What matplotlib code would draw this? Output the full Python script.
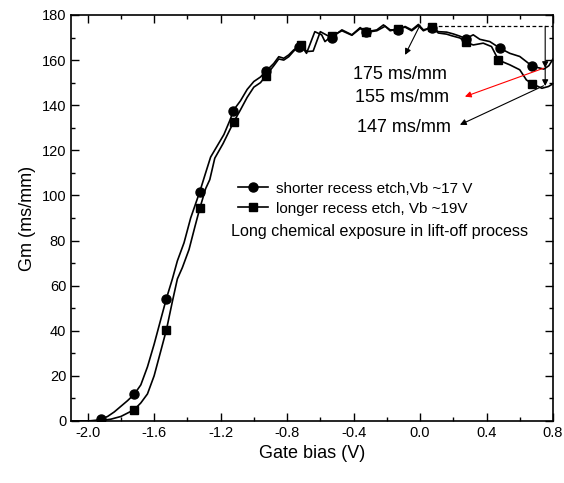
import numpy as np
import matplotlib
matplotlib.use('Agg')
import matplotlib.pyplot as plt
from matplotlib.lines import Line2D

plt.rcParams['font.family'] = ['Liberation Sans', 'DejaVu Sans']

# shorter recess etch, Vb ~17 V  (circles)
v_short = [-2.1, -2.0, -1.95, -1.92, -1.88, -1.84, -1.80, -1.76, -1.72, -1.68, -1.64,
           -1.60, -1.56, -1.526, -1.49, -1.46, -1.42, -1.38, -1.325, -1.29, -1.26,
           -1.22, -1.18, -1.14, -1.124, -1.08, -1.04, -1.00, -0.96, -0.928, -0.88,
           -0.85, -0.82, -0.79, -0.76, -0.72, -0.68, -0.643, -0.60, -0.56, -0.532,
           -0.47, -0.41, -0.36, -0.325, -0.26, -0.22, -0.18, -0.131, -0.09, -0.05,
           -0.01, 0.02, 0.07, 0.11, 0.16, 0.20, 0.24, 0.275, 0.32, 0.36, 0.42,
           0.48, 0.54, 0.60, 0.675, 0.745, 0.775, 0.80]
gm_short = [0, 0, 0.3, 0.8, 2, 4, 6.5, 9, 11.8, 16, 24,
            34, 45, 54.3, 63, 71, 79, 90, 101.7, 110, 117,
            122, 127, 134, 137.6, 142, 147, 150.5, 152.5, 155, 158.5,
            161.5, 160.8, 162.3, 164.5, 166.5, 163.8, 164, 172.6, 171, 170,
            173.4, 171.2, 174.4, 172.5, 173.4, 175.6, 173.4, 173.4, 174.9, 173.4,
            175.8, 173.4, 174.4, 172.6, 172.4, 171.6, 170.6, 169.5, 171.2, 169.2, 168.2,
            165.3, 163, 161.6, 157.3, 156, 157.5, 160.5]
mk_short = [-1.92, -1.72, -1.526, -1.325, -1.124, -0.928, -0.73, -0.532, -0.325,
            -0.131, 0.07, 0.275, 0.48, 0.675]

# longer recess etch, Vb ~19 V  (squares)
v_long = [-2.1, -2.0, -1.92, -1.86, -1.80, -1.76, -1.72, -1.68, -1.64, -1.60,
          -1.56, -1.526, -1.49, -1.46, -1.43, -1.39, -1.355, -1.325, -1.29, -1.265,
          -1.235, -1.185, -1.145, -1.12, -1.08, -1.04, -1.00, -0.96, -0.928, -0.88,
          -0.85, -0.82, -0.79, -0.76, -0.719, -0.683, -0.633, -0.592, -0.572,
          -0.532, -0.47, -0.41, -0.36, -0.325, -0.26, -0.21, -0.18, -0.131, -0.09,
          -0.05, -0.01, 0.02, 0.07, 0.11, 0.16, 0.19, 0.24, 0.275, 0.32, 0.38,
          0.43, 0.472, 0.54, 0.60, 0.64, 0.675, 0.733, 0.773, 0.80]
gm_long = [0, 0, 0.2, 0.8, 2, 3.5, 5, 8, 12, 20,
           31, 40.4, 53, 63, 68, 76, 86, 94.3, 103, 107,
           116.5, 123, 129, 132.7, 138, 143.5, 148, 150, 153, 157.5,
           160.5, 160, 161.5, 164, 166.7, 163, 172.6, 171.2, 168.2,
           170.6, 173, 171, 174, 172.3, 173, 175, 173, 173.8, 174.6,
           173, 175.3, 173, 174.6, 172, 171.5, 170.8, 169.8, 168, 166.7, 167.5,
           166, 160, 157.9, 155.7, 151.2, 149.5, 147.5, 148.3, 149.5]
mk_long = [-1.72, -1.526, -1.325, -1.12, -0.928, -0.719, -0.532, -0.325,
           -0.131, 0.07, 0.275, 0.472, 0.675]

fig = plt.figure(figsize=(5.64, 4.83), dpi=100)
ax = fig.add_axes([0.1259, 0.1284, 0.8546, 0.8406])

ax.plot(v_short, gm_short, color='black', lw=1.2)
ax.plot(mk_short, np.interp(mk_short, v_short, gm_short), 'o', color='black', ms=6.5, ls='none')
ax.plot(v_long, gm_long, color='black', lw=1.2)
ax.plot(mk_long, np.interp(mk_long, v_long, gm_long), 's', color='black', ms=5.5, ls='none')

# dashed reference and arrows
ax.plot([0.07, 0.8], [175, 175], color='black', lw=0.9, ls=(0, (3, 2)))
arw = dict(arrowstyle='-|>', color='black', lw=0.8, mutation_scale=9, shrinkA=0, shrinkB=0)
ax.annotate('', xy=(0.753, 156.5), xytext=(0.753, 175), arrowprops=arw)
ax.annotate('', xy=(0.753, 148.5), xytext=(0.753, 156.5), arrowprops=arw)
ax.annotate('', xy=(-0.09, 162.3), xytext=(0.0, 175.5), arrowprops=arw)
ax.annotate('', xy=(0.27, 143.8), xytext=(0.743, 156.4),
            arrowprops=dict(arw, color='red'))
ax.annotate('', xy=(0.24, 131.3), xytext=(0.743, 148.6), arrowprops=arw)

ax.text(-0.404, 153.8, '175 ms/mm', fontsize=13, va='center', ha='left')
ax.text(-0.392, 143.2, '155 ms/mm', fontsize=13, va='center', ha='left')
ax.text(-0.38, 129.9, '147 ms/mm', fontsize=13, va='center', ha='left')

handles = [Line2D([], [], color='black', lw=1.2, marker='o', ms=6.5),
           Line2D([], [], color='black', lw=1.2, marker='s', ms=5.5)]
ax.legend(handles, ['shorter recess etch,Vb ~17 V', 'longer recess etch, Vb ~19V'],
          loc='upper left', bbox_to_anchor=(0.347, 0.589), frameon=False,
          fontsize=11, handlelength=1.95, handletextpad=0.55, borderpad=0,
          borderaxespad=0, labelspacing=0.38)
ax.text(-1.135, 83.8, 'Long chemical exposure in lift-off process', fontsize=11.6,
        va='center', ha='left')

ax.set_xlim(-2.1, 0.8)
ax.set_ylim(0, 180)
ax.set_xticks(np.arange(-2.0, 0.81, 0.4))
ax.set_xticks(np.arange(-2.0, 0.81, 0.2), minor=True)
ax.set_yticks(np.arange(0, 181, 20))
ax.set_yticks(np.arange(0, 181, 10), minor=True)
ax.set_xticklabels(['-2.0', '-1.6', '-1.2', '-0.8', '-0.4', '0.0', '0.4', '0.8'])
ax.tick_params(which='both', direction='in', top=True, right=True, labelsize=10.5, width=1)
ax.tick_params(which='major', length=6)
ax.tick_params(which='minor', length=3)
for s in ax.spines.values():
    s.set_linewidth(1.2)

ax.set_xlabel('Gate bias (V)', fontsize=13)
ax.set_ylabel('Gm (ms/mm)', fontsize=13)

fig.savefig('out.png', dpi=100)
